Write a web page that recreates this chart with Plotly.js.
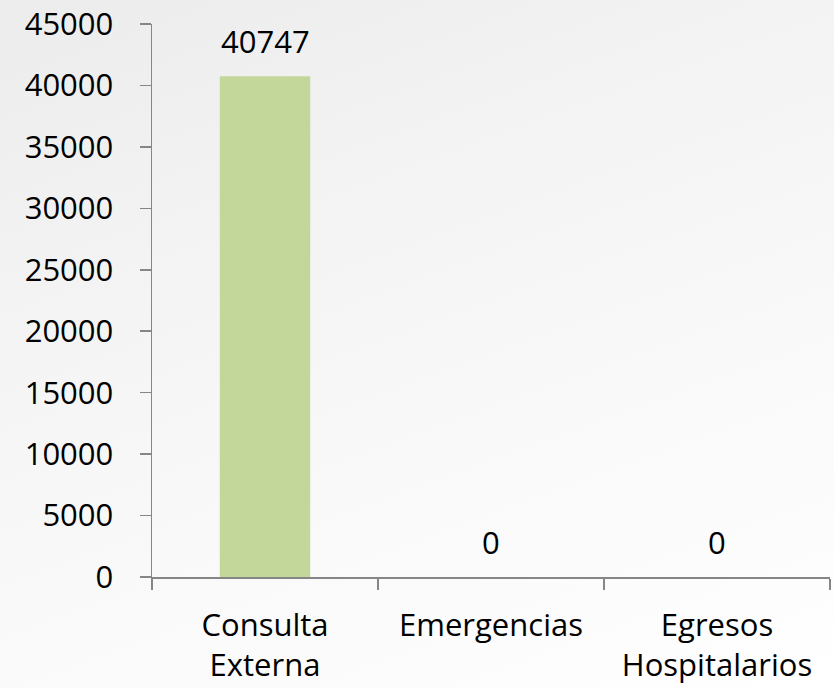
<!DOCTYPE html>
<html><head><meta charset="utf-8">
<script src="https://cdn.plot.ly/plotly-3.0.1.min.js"></script>
<style>
html,body{margin:0;padding:0;}
body{width:834px;height:688px;background:linear-gradient(160deg,#ececec 0%,#f6f6f6 45%,#ffffff 100%);}
#chart{width:834px;height:688px;}
</style>
</head><body><div id="chart"></div>
<script>
const categories = ["Consulta<br>Externa", "Emergencias", "Egresos<br>Hospitalarios"];
const values = [40747, 0, 0];
const yTicks = [0, 5000, 10000, 15000, 20000, 25000, 30000, 35000, 40000, 45000];

const FONT = "Open Sans";
const FS = 31;

const trace = {
  type: "bar",
  x: categories,
  y: values,
  marker: {color: "#c4d79b"},
  width: 0.4,
  hoverinfo: "none"
};

const annotations = categories.map((c, i) => ({
  x: c, y: values[i], xref: "x", yref: "y",
  text: String(values[i]),
  showarrow: false,
  yanchor: "bottom",
  yshift: 12,
  font: {family: FONT, size: FS, color: "#000"}
}));

const layout = {
  width: 834, height: 688,
  margin: {l: 152, r: 3.5, t: 23.5, b: 111, pad: 0},
  paper_bgcolor: "rgba(0,0,0,0)",
  plot_bgcolor: "rgba(0,0,0,0)",
  showlegend: false,
  font: {family: FONT, size: FS, color: "#000"},
  annotations: annotations,
  xaxis: {
    type: "category",
    showline: true, linecolor: "#868686", linewidth: 1.5,
    ticks: "outside", tickson: "boundaries", ticklen: 11, tickcolor: "#868686", tickwidth: 1.5,
    showgrid: false, zeroline: false,
    tickfont: {family: FONT, size: FS, color: "#000"},
    ticklabelstandoff: 20
  },
  yaxis: {
    range: [0, 45000],
    tickvals: yTicks,
    ticktext: yTicks.map(String),
    showline: true, linecolor: "#868686", linewidth: 1.5,
    ticks: "outside", ticklen: 11, tickcolor: "#868686", tickwidth: 1.5,
    showgrid: false, zeroline: false,
    tickfont: {family: FONT, size: FS, color: "#000"},
    ticklabelstandoff: 20
  }
};

Plotly.newPlot("chart", [trace], layout, {displayModeBar: false, staticPlot: true});
</script>
</body></html>
